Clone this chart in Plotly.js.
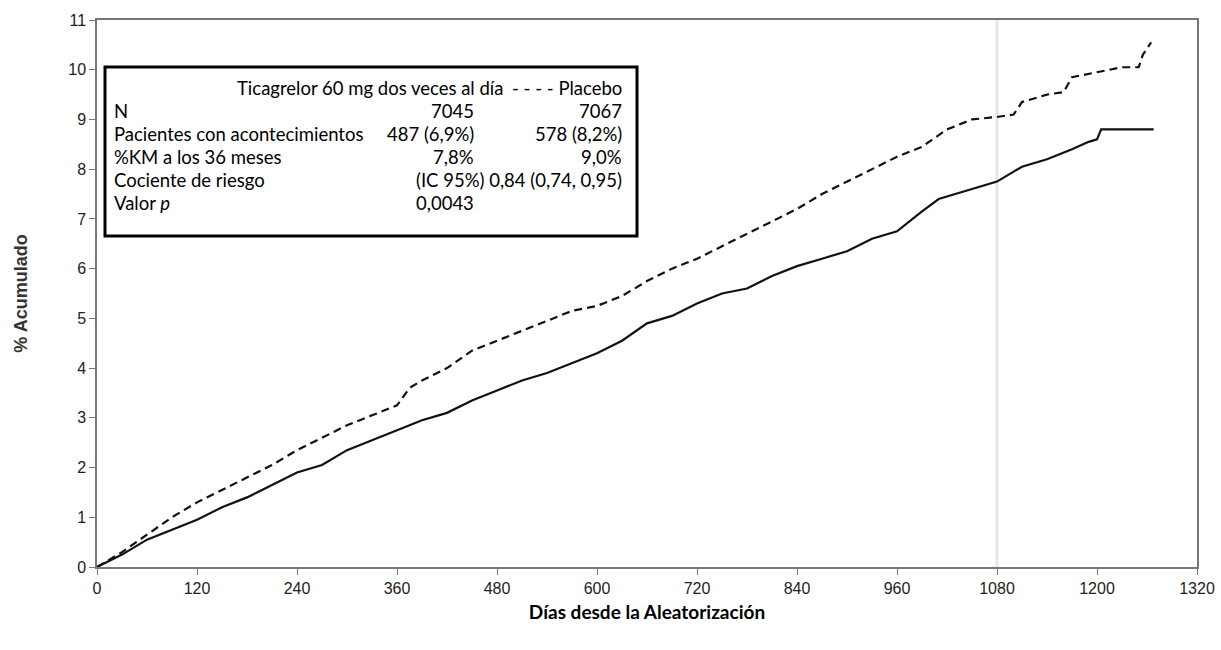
<!DOCTYPE html>
<html>
<head>
<meta charset="utf-8">
<script src="https://cdn.plot.ly/plotly-3.0.1.min.js"></script>
<style>body{margin:0;background:#fff}#chart{width:1221px;height:650px}</style>
</head>
<body>
<div id="chart"></div>
<script>
// dias desde la aleatorizacion / % acumulado (estimados del grafico)
var diasPlacebo = [0,30,60,90,120,150,180,210,240,270,300,330,360,375,390,420,450,480,510,540,570,600,630,660,690,720,750,780,810,840,870,900,930,960,990,1020,1050,1080,1100,1110,1140,1160,1170,1200,1230,1250,1255,1265]
var valPlacebo = [0,0.3,0.65,1.0,1.3,1.55,1.8,2.05,2.35,2.6,2.85,3.05,3.25,3.6,3.75,4.0,4.35,4.55,4.75,4.95,5.15,5.25,5.45,5.75,6.0,6.2,6.45,6.7,6.95,7.2,7.5,7.75,8.0,8.25,8.45,8.8,9.0,9.05,9.1,9.35,9.5,9.55,9.85,9.95,10.05,10.05,10.3,10.55]
var diasTica = [0,30,60,90,120,150,180,210,240,270,300,330,360,390,420,450,480,510,540,570,600,630,660,690,720,750,780,810,840,870,900,930,960,990,1010,1050,1080,1110,1140,1170,1190,1200,1205,1268]
var valTica = [0,0.25,0.55,0.75,0.95,1.2,1.4,1.65,1.9,2.05,2.35,2.55,2.75,2.95,3.1,3.35,3.55,3.75,3.9,4.1,4.3,4.55,4.9,5.05,5.3,5.5,5.6,5.85,6.05,6.2,6.35,6.6,6.75,7.15,7.4,7.6,7.75,8.05,8.2,8.4,8.55,8.6,8.8,8.8]
var ticksX = [0,120,240,360,480,600,720,840,960,1080,1200,1320]
var ticksY = [0,1,2,3,4,5,6,7,8,9,10,11]

// filas de la caja de leyenda
var etiquetas = ['N', 'Pacientes con acontecimientos', '%KM a los 36 meses', 'Cociente de riesgo', 'Valor <i>p</i>']
var colTica = ['7045', '487 (6,9%)', '7,8%', '', '0,0043']
var colPlacebo = ['7067', '578 (8,2%)', '9,0%', '(IC 95%) 0,84 (0,74, 0,95)', '']

var data = [
    {x: [1080, 1080], y: [0, 11], mode: 'lines', line: {color: '#e6e6e6', width: 3}, hoverinfo: 'skip'},
    {x: diasPlacebo, y: valPlacebo, mode: 'lines', line: {color: '#111', width: 2.2, dash: '8px,5px'}},
    {x: diasTica, y: valTica, mode: 'lines', line: {color: '#111', width: 2.2}}
]

var fuente = {family: 'Lato, "Liberation Sans", sans-serif', size: 18.5, color: '#000'}
var ann = []
var filaY = [111, 134, 157, 180, 203]
function py(p) { return (567 - p) / 547 }
function px(p) { return (p - 97) / 1100 }
ann.push({xref: 'paper', yref: 'paper', x: px(505), y: py(88), xanchor: 'right', yanchor: 'middle', text: 'Ticagrelor 60 mg dos veces al día', showarrow: false, font: fuente})
ann.push({xref: 'paper', yref: 'paper', x: px(624), y: py(88), xanchor: 'right', yanchor: 'middle', text: '- - - - Placebo', showarrow: false, font: fuente})
for (let i = 0; i < etiquetas.length; i++) {
    ann.push({xref: 'paper', yref: 'paper', x: px(112), y: py(filaY[i]), xanchor: 'left', yanchor: 'middle', text: etiquetas[i], showarrow: false, font: fuente})
    if (colTica[i]) ann.push({xref: 'paper', yref: 'paper', x: px(476), y: py(filaY[i]), xanchor: 'right', yanchor: 'middle', text: colTica[i], showarrow: false, font: fuente})
    if (colPlacebo[i]) ann.push({xref: 'paper', yref: 'paper', x: px(624), y: py(filaY[i]), xanchor: 'right', yanchor: 'middle', text: colPlacebo[i], showarrow: false, font: fuente})
}

var layout = {
    width: 1221, height: 650,
    margin: {l: 97, r: 24, t: 20, b: 83},
    showlegend: false,
    paper_bgcolor: '#fff', plot_bgcolor: '#fff',
    xaxis: {
        range: [0, 1320], tickvals: ticksX, showgrid: false, zeroline: false,
        showline: true, mirror: true, linecolor: '#777', linewidth: 1.5,
        ticks: 'outside', ticklen: 6, tickcolor: '#777',
        tickfont: {family: 'Liberation Sans, Arial', size: 16, color: '#222'},
        title: {text: '<b>Días desde la Aleatorización</b>', font: {family: 'Lato, sans-serif', size: 19, color: '#000'}, standoff: 10}
    },
    yaxis: {
        range: [0, 11], tickvals: ticksY, showgrid: false, zeroline: false,
        showline: true, mirror: true, linecolor: '#777', linewidth: 1.5,
        ticks: 'outside', ticklen: 6, tickcolor: '#777',
        tickfont: {family: 'Liberation Sans, Arial', size: 16, color: '#222'},
        title: {text: '<b>% Acumulado</b>', font: {family: 'Liberation Sans, Arial', size: 18, color: '#333'}, standoff: 36}
    },
    shapes: [{type: 'rect', xref: 'paper', yref: 'paper', x0: px(105), x1: px(637), y0: py(236), y1: py(67), line: {color: '#000', width: 3}, fillcolor: '#fff'}],
    annotations: ann
}

Plotly.newPlot('chart', data, layout, {displayModeBar: false})
</script>
</body>
</html>
